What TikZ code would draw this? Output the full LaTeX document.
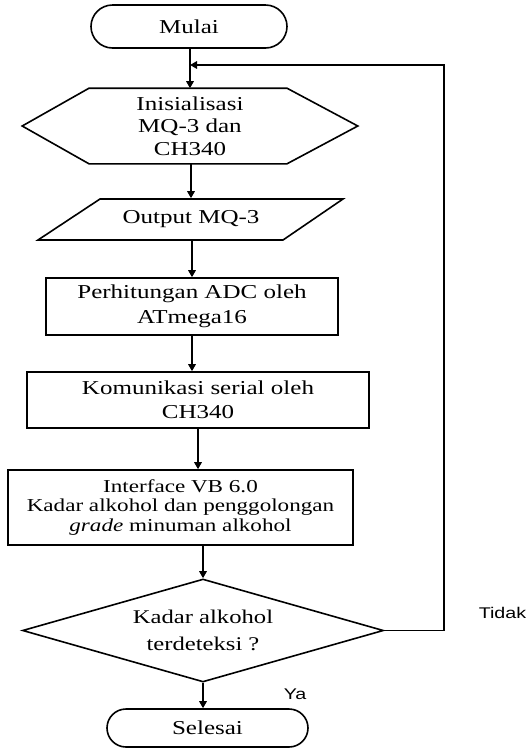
\documentclass[tikz,border=0pt]{standalone}
\usepackage{fontspec}
\setmainfont{Liberation Serif}[FakeStretch=1.27]
\newfontfamily\labfont{Liberation Sans}[FakeStretch=1.27]
\usetikzlibrary{arrows.meta,shapes.geometric,shapes.misc,calc}
\begin{document}
\begin{tikzpicture}[x=1pt,y=-1pt,line width=1.6pt,
  txt/.style={align=center,inner sep=0pt,font=\fontsize{19.7}{22.5}\selectfont},
  term/.style={txt,draw,rounded rectangle},
  box/.style={txt,draw,rectangle},
  plain/.style={txt,rectangle},
  arr/.style={-{Triangle[length=7pt,width=7.5pt]}},
  lab/.style={inner sep=0pt,font=\labfont\fontsize{15.5}{17}\selectfont}]
\useasboundingbox (0,0) rectangle (532,748);
% nodes
\node[term,minimum width=196,minimum height=43] (start) at (189,26.5) {Mulai};
\node[plain,minimum width=334,minimum height=74] (init) at (190,126) {Inisialisasi\\MQ-3 dan\\CH340};
\draw ($(init.north)+(-101,0)$) -- ($(init.north)+(97,0)$) -- (init.east) -- ($(init.south)+(97,0)$) -- ($(init.south)+(-101,0)$) -- (init.west) -- cycle;
\node[plain,minimum width=305,minimum height=41] (out) at (191,219.5) {Output MQ-3};
\draw ($(out.center)+(-91,-20.5)$) -- ($(out.center)+(152,-20.5)$) -- ($(out.center)+(92,20.5)$) -- ($(out.center)+(-153,20.5)$) -- cycle;
\node[box,minimum width=292,minimum height=57,font=\fontsize{19.7}{25}\selectfont] (adc) at (192,306.5) {Perhitungan ADC oleh\\ATmega16};
\node[box,minimum width=342,minimum height=56,font=\fontsize{19.7}{24}\selectfont] (ser) at (198,400) {Komunikasi serial oleh\\CH340};
\node[box,minimum width=345,minimum height=75,font=\fontsize{18.2}{19.5}\selectfont] (vb) at (180.5,507.5) {Interface VB 6.0\\Kadar alkohol dan penggolongan\\\textit{grade} minuman alkohol};
\node[txt,draw,diamond,aspect=3.5,minimum width=361,minimum height=103,font=\fontsize{19.4}{27}\selectfont] (dia) at (203,630.5) {Kadar alkohol\\terdeteksi ?};
\node[term,minimum width=201,minimum height=38] (end) at (207.5,728) {Selesai};
\node[lab,anchor=west] (tidak) at (478,613) {Tidak};
\node[lab,anchor=west] (ya) at (283,694) {Ya};
\coordinate (looptop) at (444,65);
\coordinate (join) at (190,65);
% connectors
\draw[arr] (start.south -| init.north) -- (init.north);
\draw[arr] (out.north |- init.south) -- (out.north);
\draw[arr] (out.south -| adc.north) -- (adc.north);
\draw[arr] (adc.south) -- (adc.south |- ser.north);
\draw[arr] (ser.south) -- (ser.south |- vb.north);
\draw[arr] (dia.north |- vb.south) -- (dia.north);
\draw[arr] (dia.south) -- (dia.south |- end.north);
\draw[arr] (dia.east) -| (looptop) -- (join);
\end{tikzpicture}
\end{document}
